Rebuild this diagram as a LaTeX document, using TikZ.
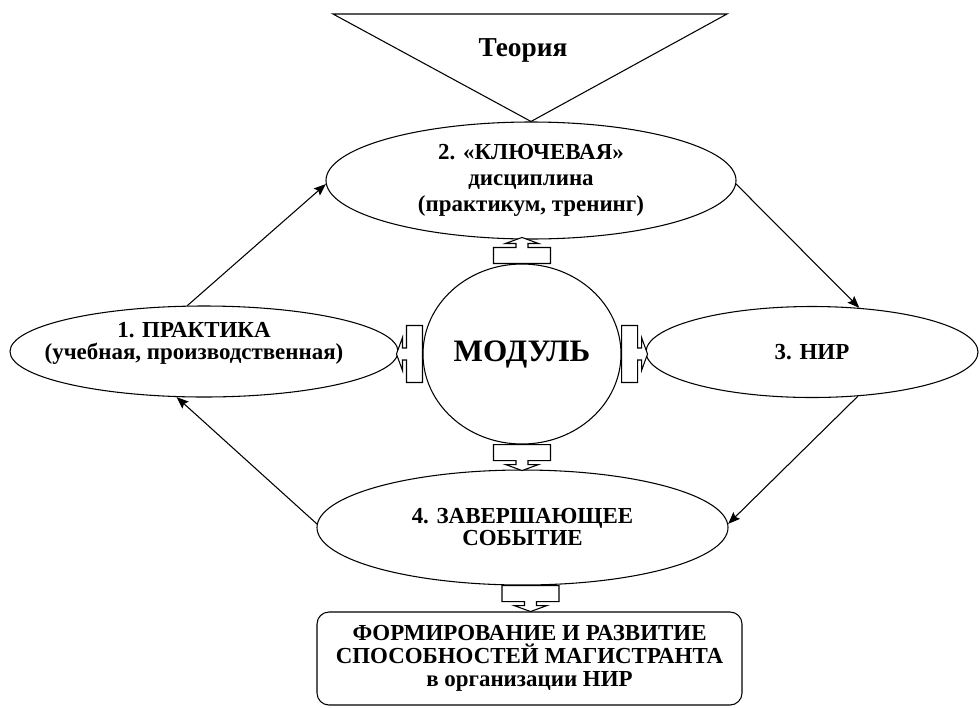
\documentclass[tikz,border=0pt]{standalone}
\usepackage{fontspec}
\setmainfont{Liberation Serif}
\usetikzlibrary{arrows.meta,shapes.geometric}

\newcommand{\boxfont}{\fontsize{17.2}{16.5}\selectfont\bfseries}
\newcommand{\modfont}{\fontsize{23.4}{23.4}\selectfont\bfseries}

\begin{document}
\begin{tikzpicture}[x=0.75pt,y=-0.75pt,
    oval/.style={draw, ellipse, line width=0.8pt, inner sep=0pt, align=center, font=\boxfont},
    arr/.style={line width=0.8pt, -{Stealth[length=9pt,width=7pt,inset=1.5pt]}},
    blk/.pic={
        \draw[line width=0.8pt, fill=white] (-28.5,0) -- (-28.5,-16) -- (-6,-16) -- (-6,-20)
            -- (-16.5,-20) -- (0,-26) -- (16.5,-20) -- (6,-20) -- (6,-16) -- (28.5,-16) -- (28.5,0) -- cycle;
    }]
        \useasboundingbox (0,0) rectangle (980,707);

        % The four stages and the module in the middle
        \node[oval, minimum width=307.5pt, minimum height=87.75pt] (key) at (531,180.5)
            {2. «КЛЮЧЕВАЯ»\\[3pt] дисциплина\\[3pt] (практикум, тренинг)};
        \node[oval, minimum width=291pt, minimum height=68.25pt] (prak) at (204,351.5) {};
        \node[align=center, font=\boxfont] (prak-txt) at ([shift={(-10,-8)}]prak)
            {1. ПРАКТИКА\\(учебная, производственная)};
        \node[oval, minimum width=249pt, minimum height=68.25pt] (nir) at (812,352) {3. НИР};
        \node[oval, minimum width=308.25pt, minimum height=86.25pt] (zav) at (522.5,527.5)
            {4. ЗАВЕРШАЮЩЕЕ\\СОБЫТИЕ};
        \node[oval, minimum width=148.5pt, minimum height=135pt, font=\modfont] (modul) at (522,354) {МОДУЛЬ};

        % Result box at the bottom
        \node[draw, line width=0.8pt, rounded corners=9pt, minimum width=318.75pt, minimum height=69.75pt,
            align=center, font=\fontsize{17.2}{17.2}\selectfont\bfseries] (res) at (529.5,658.5)
            {ФОРМИРОВАНИЕ И РАЗВИТИЕ\\СПОСОБНОСТЕЙ МАГИСТРАНТА\\в организации НИР};

        % Theory triangle on top
        \coordinate (tl) at (333,14);
        \coordinate (tr) at (727,14);
        \draw[line width=0.8pt] (tl) -- (tr) -- (key.north) -- cycle;
        \node[font=\fontsize{20.5}{20.5}\selectfont\bfseries] (teor) at (523,50) {Теория};

        % Cycle of arrows
        \draw[arr] (prak.110.9) -- (key.181);
        \draw[arr] (key.-1) -- (nir.43.8);
        \draw[arr] (nir.-44) -- (zav.1);
        \draw[arr] (zav.179) -- (prak.239);

        % Block arrows out of the module
        \pic at (modul.north) {blk};
        \pic[rotate=180] at (modul.south) {blk};
        \pic[rotate=90] at (modul.west) {blk};
        \pic[rotate=-90] at (modul.east) {blk};
        \pic[rotate=180] at ([xshift=6pt]zav.south) {blk};

    \end{tikzpicture}
\end{document}
